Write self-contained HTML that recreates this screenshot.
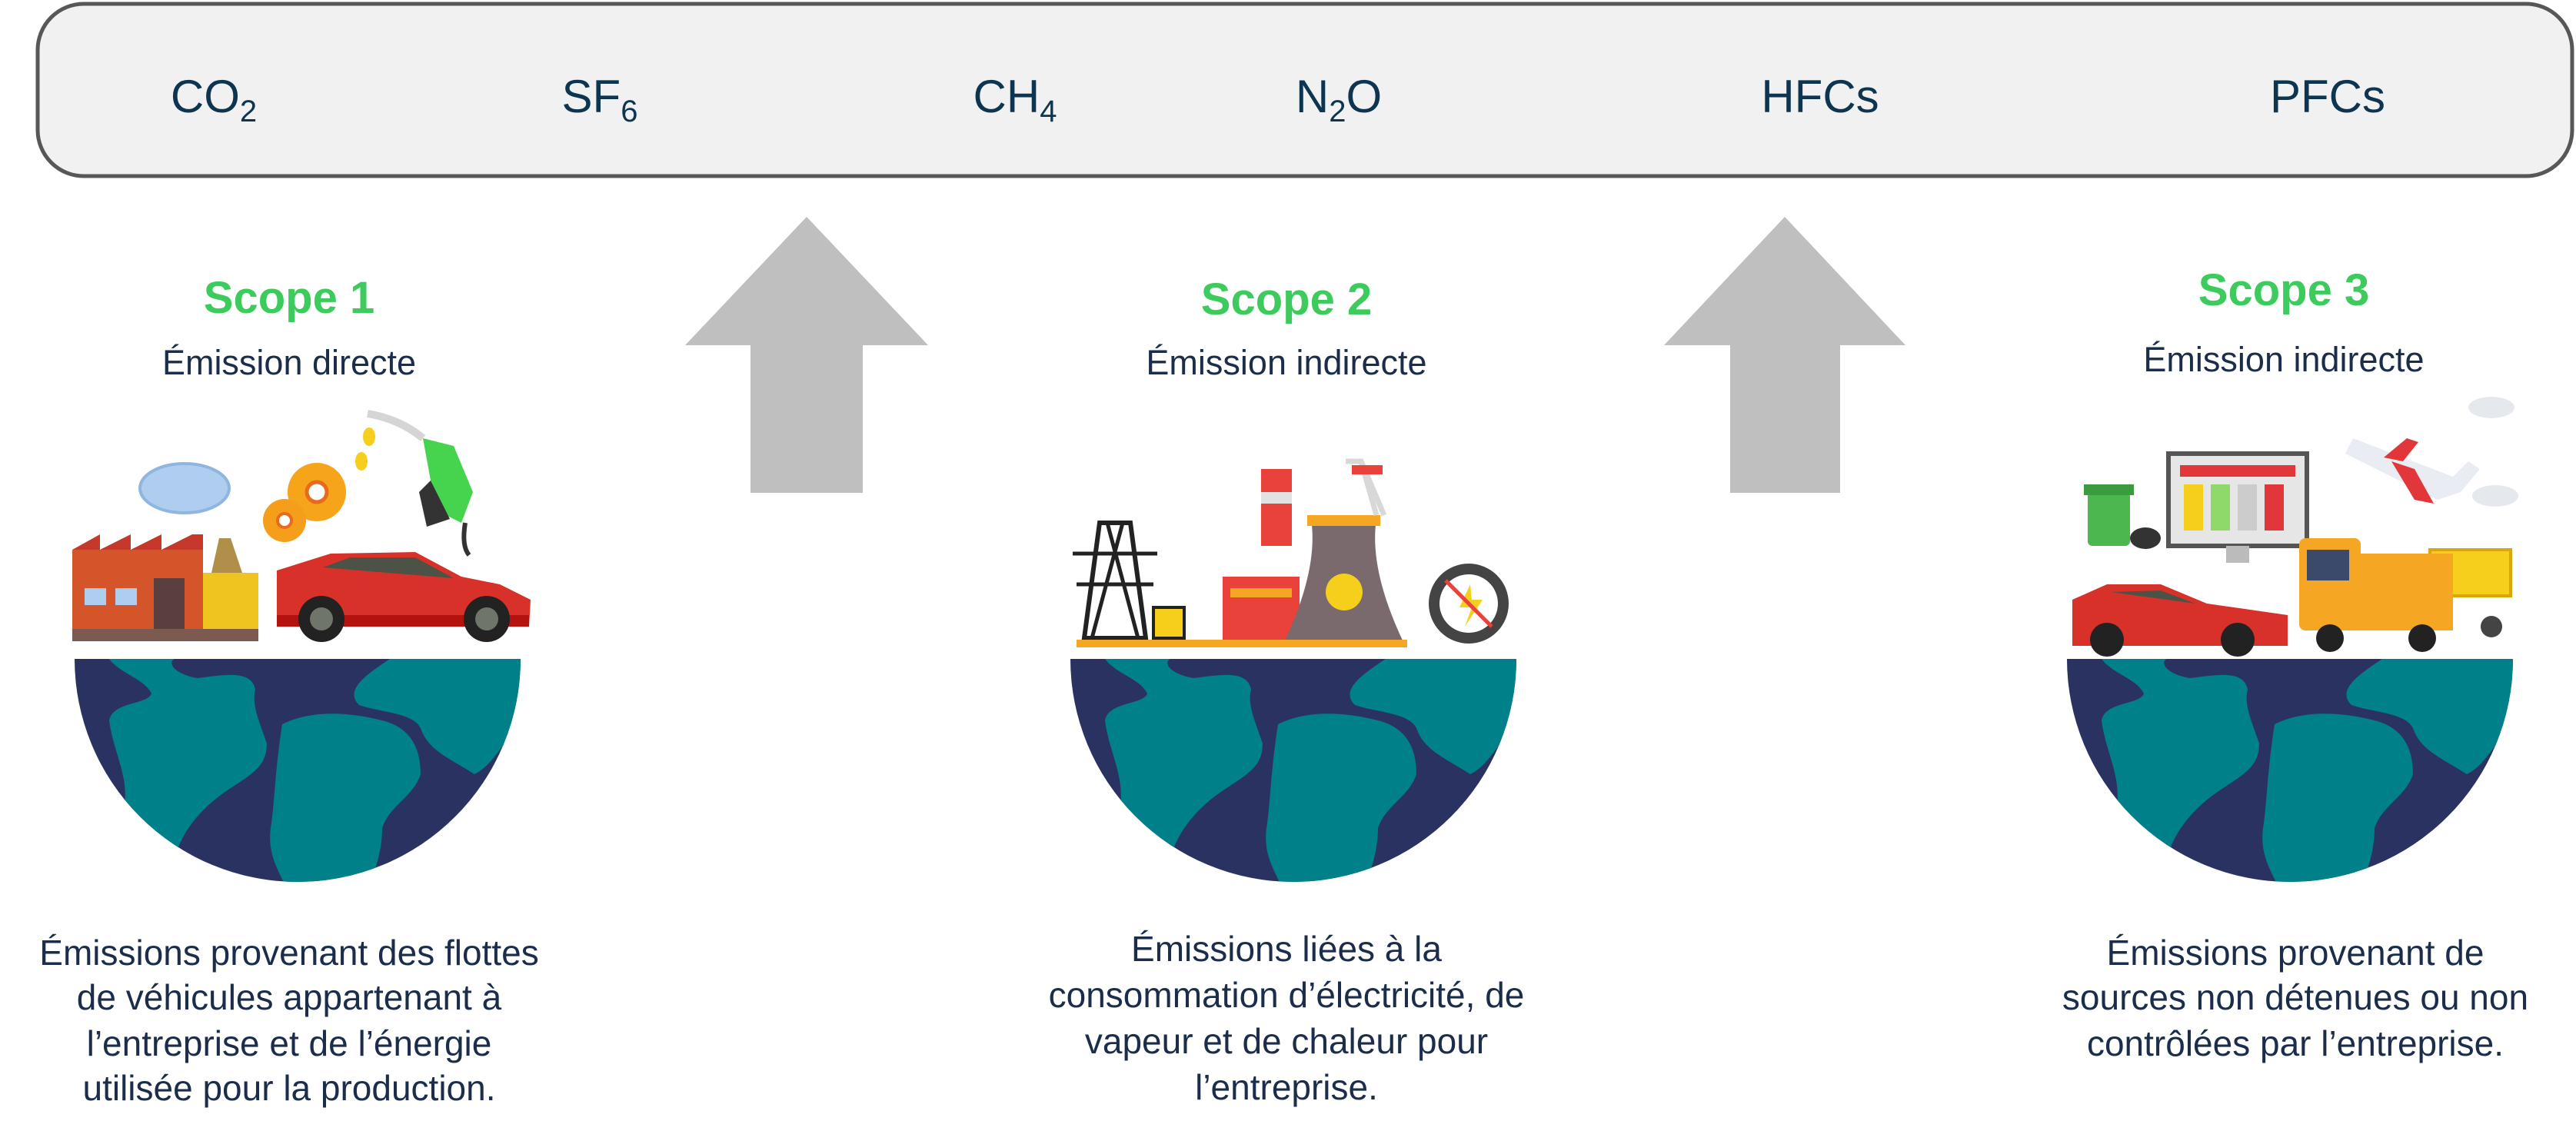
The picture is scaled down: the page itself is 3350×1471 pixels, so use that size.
<!DOCTYPE html>
<html><head><meta charset="utf-8"><style>
html,body{margin:0;padding:0;background:#fff;width:3350px;height:1471px;overflow:hidden}
svg{display:block}
.g{font-family:"Liberation Sans",sans-serif;font-size:60px;fill:#0d3550;text-anchor:middle}
.t{font-family:"Liberation Sans",sans-serif;font-weight:bold;font-size:58px;fill:#3dcb5d;text-anchor:middle}
.s{font-family:"Liberation Sans",sans-serif;font-size:45px;fill:#1b2d4a;text-anchor:middle}
.d{font-family:"Liberation Sans",sans-serif;font-size:46px;fill:#1b2d4a;text-anchor:middle}
</style></head><body>
<svg width="3350" height="1471" viewBox="0 0 3350 1471" xmlns="http://www.w3.org/2000/svg">
<defs>
<clipPath id="gc"><path d="M-290,0 H290 A290,290 0 0 1 -290,0 Z"/></clipPath>
<g id="globe">
<path d="M-290,0 H290 A290,290 0 0 1 -290,0 Z" fill="#2a3262"/>
<g clip-path="url(#gc)" fill="#008189">
<path d="M-245,0 C-230,20 -200,25 -190,45 C-195,60 -240,55 -245,80 C-240,120 -220,150 -225,190 L-160,260 C-150,220 -120,190 -90,170 C-60,150 -40,140 -40,110 C-50,80 -60,60 -55,40 C-60,15 -90,20 -130,25 C-160,20 -170,5 -160,0 Z"/>
<path d="M-20,85 C20,65 70,70 110,80 C150,90 160,120 160,150 C150,180 120,190 110,220 C110,250 100,280 90,300 L-10,310 C-20,280 -40,260 -35,220 C-30,190 -30,150 -20,85 Z"/>
<path d="M120,0 C90,20 60,40 80,60 C110,70 150,70 160,90 C170,120 200,130 230,150 C250,140 260,120 270,110 L300,100 L300,0 Z"/>
</g>
</g>
</defs>
<rect x="49" y="5" width="3296" height="224" rx="60" ry="60" fill="#f1f1f1" stroke="#575757" stroke-width="5"/>
<text class="g" x="278" y="146">CO<tspan font-size="40" dy="12">2</tspan></text>
<text class="g" x="780" y="146">SF<tspan font-size="40" dy="12">6</tspan></text>
<text class="g" x="1320" y="146">CH<tspan font-size="40" dy="12">4</tspan></text>
<text class="g" x="1741" y="146">N<tspan font-size="40" dy="12">2</tspan><tspan dy="-12">O</tspan></text>
<text class="g" x="2367" y="146">HFCs</text>
<text class="g" x="3027" y="146">PFCs</text>
<polygon points="1049,282 1207,449 1122,449 1122,641 976,641 976,449 891,449" fill="#bfbfbf"/>
<polygon points="2321,282 2478,449 2393,449 2393,641 2250,641 2250,449 2164,449" fill="#bfbfbf"/>
<text class="t" x="376" y="407">Scope 1</text>
<text class="s" x="376" y="487">Émission directe</text>
<text class="t" x="1673" y="409">Scope 2</text>
<text class="s" x="1673" y="487">Émission indirecte</text>
<text class="t" x="2970" y="397">Scope 3</text>
<text class="s" x="2970" y="483">Émission indirecte</text>
<use href="#globe" transform="translate(387,857)"/>
<use href="#globe" transform="translate(1682,857)"/>
<use href="#globe" transform="translate(2978,857)"/>
<g>
<ellipse cx="240" cy="635" rx="58" ry="32" fill="#aecdef" stroke="#8fb6e0" stroke-width="4"/>
<polygon points="285,700 300,700 315,745 275,745" fill="#b08f48"/>
<rect x="94" y="715" width="170" height="105" fill="#d4552a"/>
<polygon points="94,715 130,695 130,715 170,695 170,715 210,695 210,715 250,695 264,695 264,715" fill="#c6392a"/>
<rect x="264" y="745" width="72" height="75" fill="#f0c420"/>
<rect x="110" y="765" width="28" height="22" fill="#aecdef"/><rect x="150" y="765" width="28" height="22" fill="#aecdef"/>
<rect x="200" y="752" width="40" height="68" fill="#5a3f3f"/>
<rect x="94" y="818" width="242" height="16" fill="#7c5a50"/>
<circle cx="412" cy="640" r="38" fill="#f6a51b"/><circle cx="412" cy="640" r="13" fill="#fff" stroke="#e86a1a" stroke-width="5"/>
<circle cx="370" cy="677" r="28" fill="#f49e1c"/><circle cx="370" cy="677" r="9" fill="#fff" stroke="#e86a1a" stroke-width="4"/>
<ellipse cx="480" cy="568" rx="8" ry="12" fill="#f5cf1b"/><ellipse cx="470" cy="600" rx="8" ry="12" fill="#f5cf1b"/>
<path d="M478,538 Q520,545 550,570" stroke="#d5d5d5" stroke-width="10" fill="none"/>
<path d="M550,570 L590,580 L615,640 L600,680 L580,670 L560,625 Z" fill="#46d34e"/>
<path d="M560,625 L585,675 L555,685 L545,640 Z" fill="#333"/>
<path d="M605,680 Q600,710 610,722" stroke="#333" stroke-width="6" fill="none"/>
<path d="M360,742 L430,720 L540,718 L600,750 L650,760 L690,780 L688,815 L360,815 Z" fill="#d8312a"/>
<path d="M420,738 L455,725 L540,725 L590,752 Z" fill="#4c5246"/>
<rect x="360" y="800" width="328" height="15" fill="#b4120f"/>
<circle cx="418" cy="805" r="30" fill="#222"/><circle cx="418" cy="805" r="15" fill="#6f756a"/>
<circle cx="633" cy="805" r="30" fill="#222"/><circle cx="633" cy="805" r="15" fill="#6f756a"/>
</g>
<g>
<path d="M1430,680 L1470,680 L1490,830 L1410,830 Z" fill="none" stroke="#222" stroke-width="6"/>
<path d="M1395,720 H1505 M1400,760 H1500 M1440,680 L1480,830 M1460,680 L1420,830" stroke="#222" stroke-width="5"/>
<rect x="1500" y="790" width="40" height="40" fill="#f5cf1b" stroke="#222" stroke-width="4"/>
<rect x="1640" y="610" width="40" height="100" fill="#e8423a"/><rect x="1640" y="640" width="40" height="15" fill="#e2e2e2"/>
<rect x="1590" y="750" width="100" height="85" fill="#e8423a"/><rect x="1600" y="765" width="80" height="12" fill="#f5a623"/>
<path d="M1705,675 L1790,675 Q1780,740 1825,835 L1670,835 Q1715,740 1705,675 Z" fill="#7a6a6e"/>
<rect x="1700" y="670" width="95" height="14" fill="#f5a623"/>
<circle cx="1748" cy="770" r="24" fill="#f5cf1b"/>
<path d="M1750,600 L1770,600 L1790,670 M1770,600 L1800,670" stroke="#d8d8d8" stroke-width="7" fill="none"/>
<rect x="1758" y="605" width="40" height="12" fill="#e8423a"/>
<circle cx="1910" cy="785" r="52" fill="#444"/><circle cx="1910" cy="785" r="38" fill="#fff"/>
<path d="M1912,760 L1898,790 H1914 L1905,815 L1928,780 H1914 Z" fill="#f5cf1b"/>
<path d="M1880,755 L1940,815" stroke="#e8423a" stroke-width="5"/>
<rect x="1400" y="832" width="430" height="10" fill="#f5a623"/>
</g>
<g>
<path d="M3060,570 L3190,620 L3210,600 L3225,610 L3200,640 L3170,650 L3050,590 Z" fill="#e9ecf2"/>
<path d="M3110,600 L3140,650 L3165,655 L3140,610 Z" fill="#e2373a"/>
<path d="M3100,595 L3130,570 L3145,575 L3125,600 Z" fill="#e2373a"/>
<ellipse cx="3240" cy="530" rx="30" ry="14" fill="#e5e9ee"/><ellipse cx="3245" cy="645" rx="30" ry="14" fill="#e5e9ee"/>
<rect x="2820" y="590" width="180" height="120" fill="#e6e6e6" stroke="#555" stroke-width="6"/>
<rect x="2835" y="605" width="150" height="15" fill="#e2373a"/>
<rect x="2840" y="630" width="25" height="60" fill="#f5cf1b"/><rect x="2875" y="630" width="25" height="60" fill="#8fd86a"/><rect x="2910" y="630" width="25" height="60" fill="#ccc"/><rect x="2945" y="630" width="25" height="60" fill="#e2373a"/>
<rect x="2895" y="710" width="30" height="22" fill="#bbb"/>
<rect x="2715" y="640" width="55" height="70" rx="6" fill="#4cb74f"/><rect x="2710" y="630" width="65" height="14" fill="#3a9c3e"/>
<ellipse cx="2790" cy="700" rx="20" ry="14" fill="#333"/>
<rect x="3160" y="715" width="105" height="60" fill="#f5cf1b" stroke="#d9a70c" stroke-width="4"/>
<rect x="3040" y="720" width="150" height="100" fill="#f5a623"/>
<rect x="2990" y="700" width="80" height="120" rx="8" fill="#f5a623"/><rect x="3000" y="715" width="55" height="40" fill="#3b4a6b"/>
<circle cx="3030" cy="830" r="18" fill="#222"/><circle cx="3150" cy="830" r="18" fill="#222"/><circle cx="3240" cy="815" r="14" fill="#444"/>
<path d="M2695,780 L2740,760 L2810,760 L2870,785 L2975,800 L2975,840 L2695,840 Z" fill="#d8312a"/>
<path d="M2745,770 L2810,768 L2855,785 Z" fill="#4c5246"/>
<circle cx="2740" cy="832" r="22" fill="#222"/><circle cx="2910" cy="832" r="22" fill="#222"/>
</g>
<text class="d" x="376" y="1255">Émissions provenant des flottes</text>
<text class="d" x="376" y="1313">de véhicules appartenant à</text>
<text class="d" x="376" y="1373">l’entreprise et de l’énergie</text>
<text class="d" x="376" y="1431">utilisée pour la production.</text>
<text class="d" x="1673" y="1250">Émissions liées à la</text>
<text class="d" x="1673" y="1310">consommation d’électricité, de</text>
<text class="d" x="1673" y="1370">vapeur et de chaleur pour</text>
<text class="d" x="1673" y="1430">l’entreprise.</text>
<text class="d" x="2985" y="1255">Émissions provenant de</text>
<text class="d" x="2985" y="1313">sources non détenues ou non</text>
<text class="d" x="2985" y="1373">contrôlées par l’entreprise.</text>
</svg>
</body></html>
